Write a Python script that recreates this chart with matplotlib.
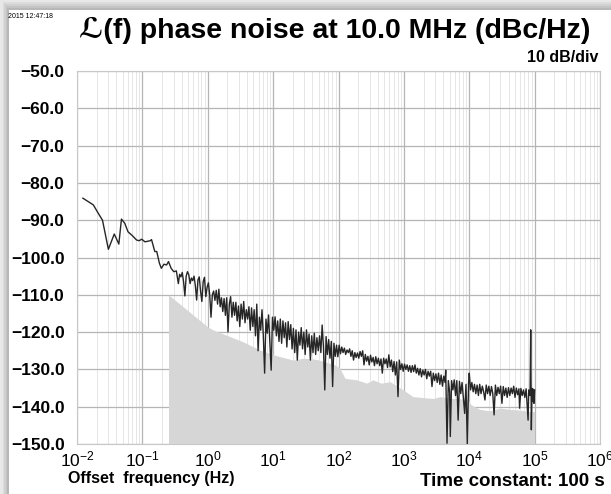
import matplotlib
matplotlib.use("Agg")
import matplotlib.pyplot as plt
import numpy as np
from matplotlib.ticker import FixedLocator, FuncFormatter, LogLocator, NullFormatter
from matplotlib.patches import Rectangle

plt.rcParams['font.family'] = ['Liberation Sans', 'DejaVu Sans']
plt.rcParams['mathtext.fontset'] = 'custom'
plt.rcParams['mathtext.rm'] = 'Liberation Sans'
plt.rcParams['mathtext.bf'] = 'Liberation Sans:bold'

# ---- data: measured trace as (log10 offset frequency, dBc/Hz) ----
trace_points = [
    (-1.91, -84.1), (-1.83, -85.0), (-1.75, -85.9), (-1.68, -88.0), (-1.61, -90.0),
    (-1.52, -97.8), (-1.47, -95.5), (-1.43, -93.7), (-1.36, -96.4), (-1.32, -89.7),
    (-1.27, -90.8), (-1.22, -93.1), (-1.15, -94.2), (-1.09, -95.3), (-1.05, -95.5),
    (-1.01, -95.1), (-0.96, -95.8), (-0.88, -95.5), (-0.86, -95.2), (-0.81, -98.4),
    (-0.78, -98.4), (-0.74, -101.5), (-0.71, -102.9), (-0.67, -101.8), (-0.63, -102.0),
    (-0.60, -101.1), (-0.56, -102.9), (-0.52, -103.8), (-0.48, -103.6),
    (-0.45, -107.0), (-0.43, -104.5), (-0.41, -105.2), (-0.39, -104.0), (-0.37, -106.5),
    (-0.35, -110.3), (-0.33, -105.0), (-0.31, -103.8), (-0.29, -104.6), (-0.27, -107.0),
    (-0.25, -105.5), (-0.23, -106.2), (-0.21, -105.0), (-0.19, -107.5), (-0.17, -111.4),
    (-0.15, -106.0), (-0.13, -105.2), (-0.11, -109.0), (-0.09, -111.8), (-0.07, -106.5),
    (-0.05, -105.3), (-0.03, -110.5), (-0.01, -108.0), (0.01, -106.8), (0.03, -110.0),
    (0.05, -116.0), (0.07, -110.0), (0.09, -109.0), (0.11, -111.5), (0.13, -108.8),
    (0.15, -112.5), (0.17, -108.5), (0.19, -113.2), (0.21, -110.8), (0.23, -114.5),
    (0.25, -111.0), (0.27, -115.5), (0.29, -110.8), (0.31, -119.9), (0.33, -112.5),
    (0.35, -110.5), (0.37, -116.0), (0.39, -112.0), (0.41, -115.5), (0.43, -112.0),
    (0.45, -117.0), (0.47, -113.0), (0.49, -118.5), (0.51, -112.5), (0.53, -116.5),
    (0.55, -111.8), (0.57, -117.5), (0.59, -114.0), (0.61, -116.5), (0.63, -113.2),
    (0.65, -119.5), (0.67, -113.5), (0.69, -118.5), (0.71, -114.0), (0.73, -121.0),
    (0.75, -112.5), (0.77, -125.0), (0.79, -116.0), (0.81, -119.5), (0.83, -114.0),
    (0.85, -121.0), (0.87, -131.0), (0.89, -116.5), (0.91, -120.3), (0.93, -115.4),
    (0.95, -122.5), (0.97, -130.2), (0.99, -116.0), (1.01, -119.5), (1.03, -115.9),
    (1.05, -121.0), (1.07, -117.0), (1.09, -122.5), (1.11, -116.5), (1.13, -123.0),
    (1.15, -117.0), (1.17, -121.5), (1.19, -117.5), (1.21, -124.0), (1.23, -117.2),
    (1.25, -122.0), (1.27, -118.0), (1.29, -124.5), (1.31, -119.0), (1.33, -125.5),
    (1.35, -119.4), (1.37, -127.5), (1.39, -120.0), (1.41, -123.5), (1.43, -118.8),
    (1.45, -124.5), (1.47, -120.0), (1.49, -126.0), (1.51, -119.4), (1.53, -124.0),
    (1.55, -120.5), (1.57, -127.5), (1.59, -121.0), (1.61, -125.5), (1.63, -120.3),
    (1.65, -126.0), (1.67, -121.5), (1.69, -125.0), (1.71, -121.0), (1.73, -125.5),
    (1.75, -118.1), (1.77, -124.0), (1.79, -135.5), (1.81, -121.2), (1.83, -126.0),
    (1.85, -122.0), (1.87, -127.0), (1.89, -122.5), (1.91, -134.6), (1.93, -123.0),
    (1.95, -126.5), (1.97, -123.5), (1.99, -126.6), (2.01, -123.5), (2.03, -125.8),
    (2.05, -124.0), (2.07, -125.5), (2.09, -124.3), (2.11, -126.0), (2.13, -124.8),
    (2.15, -125.5), (2.17, -124.5), (2.19, -126.5), (2.21, -125.0), (2.23, -127.5),
    (2.25, -125.5), (2.27, -126.8), (2.29, -125.6), (2.31, -127.0), (2.33, -125.2),
    (2.35, -126.5), (2.37, -125.0), (2.39, -128.8), (2.41, -126.0), (2.43, -127.8),
    (2.45, -126.5), (2.47, -128.8), (2.49, -126.2), (2.51, -128.0), (2.53, -126.8),
    (2.55, -129.0), (2.57, -126.6), (2.59, -128.5), (2.61, -127.0), (2.63, -129.0),
    (2.65, -127.2), (2.67, -131.0), (2.69, -127.0), (2.71, -128.5), (2.73, -127.2),
    (2.75, -129.5), (2.77, -126.1), (2.79, -129.3), (2.81, -127.5), (2.83, -130.6),
    (2.85, -127.9), (2.87, -131.5), (2.89, -128.0), (2.91, -137.3), (2.93, -127.5),
    (2.95, -130.0), (2.97, -128.5), (2.99, -130.5), (3.01, -128.6), (3.03, -130.0),
    (3.05, -128.8), (3.07, -130.5), (3.09, -129.0), (3.11, -130.8), (3.13, -129.0),
    (3.15, -130.6), (3.17, -128.8), (3.19, -131.0), (3.21, -129.7), (3.23, -131.5),
    (3.25, -129.8), (3.27, -132.0), (3.29, -130.2), (3.31, -131.5), (3.33, -130.0),
    (3.35, -132.5), (3.37, -130.5), (3.39, -131.8), (3.41, -130.5), (3.43, -134.6),
    (3.45, -131.0), (3.47, -133.0), (3.49, -131.2), (3.51, -133.5), (3.53, -131.0),
    (3.55, -134.0), (3.57, -131.5), (3.59, -134.5), (3.61, -131.8), (3.63, -133.5),
    (3.64, -130.2), (3.66, -149.8), (3.68, -133.0), (3.70, -136.0), (3.71, -148.0),
    (3.73, -133.0), (3.75, -135.5), (3.77, -132.8), (3.79, -137.0), (3.81, -133.0),
    (3.83, -143.6), (3.85, -133.2), (3.87, -136.5), (3.89, -133.5), (3.91, -137.5),
    (3.93, -141.8), (3.95, -134.0), (3.97, -150.0), (3.99, -133.5), (4.00, -131.0),
    (4.02, -135.5), (4.04, -133.5), (4.06, -136.0), (4.08, -134.0), (4.10, -136.5),
    (4.12, -134.2), (4.14, -137.0), (4.16, -134.0), (4.18, -136.5), (4.20, -134.5),
    (4.22, -136.0), (4.24, -138.2), (4.26, -134.2), (4.28, -136.5), (4.30, -134.5),
    (4.32, -137.0), (4.34, -134.6), (4.36, -136.5), (4.38, -142.2), (4.40, -134.2),
    (4.42, -137.0), (4.44, -134.8), (4.46, -136.5), (4.48, -134.5), (4.50, -139.1),
    (4.52, -134.6), (4.54, -137.0), (4.56, -135.0), (4.58, -137.5), (4.60, -134.9),
    (4.62, -137.0), (4.64, -135.0), (4.66, -136.5), (4.68, -134.5), (4.70, -137.5),
    (4.72, -135.0), (4.74, -136.8), (4.76, -135.2), (4.77, -140.4), (4.79, -135.1),
    (4.81, -137.0), (4.83, -135.5), (4.85, -137.5), (4.87, -135.2), (4.88, -138.0),
    (4.90, -143.6), (4.91, -135.5), (4.93, -137.0), (4.94, -119.4), (4.95, -146.2),
    (4.96, -135.1), (4.97, -138.5), (4.98, -135.3), (4.99, -139.1), (5.00, -135.5),
]

# ---- data: system noise floor (gray area) ----
floor_logf = [
    -0.60, 0.00, 0.08, 0.54, 0.80, 1.00, 1.31, 1.46, 1.66, 1.95,
    2.02, 2.10, 2.28, 2.43, 2.53, 2.65, 2.79, 2.99, 3.14, 3.45,
    3.55, 3.75, 3.97, 4.03, 4.16, 4.31, 4.47, 4.62, 4.77, 4.92, 5.00,
]
floor_db = [
    -110.0, -118.6, -119.4, -122.6, -124.8, -126.1, -127.5, -127.0, -127.3, -128.8,
    -129.7, -132.4, -132.8, -133.7, -132.8, -133.7, -133.3, -135.5, -137.3, -137.8,
    -137.3, -137.8, -138.0, -139.5, -140.7, -141.1, -140.4, -140.7, -140.9, -141.3, -141.3,
]

y_ticks = [-50, -60, -70, -80, -90, -100, -110, -120, -130, -140, -150]
x_decades = [-2, -1, 0, 1, 2, 3, 4, 5, 6]

title = "\u2112(f) phase noise at 10.0 MHz (dBc/Hz)"
timestamp = "2015 12:47:18"
scale_label = "10 dB/div"
xlabel = "Offset  frequency (Hz)"
tc_label = "Time constant: 100 s"

trace_f = [10 ** p[0] for p in trace_points]
trace_db = [p[1] for p in trace_points]
floor_f = [10 ** v for v in floor_logf]

W, H = 611, 494
fig = plt.figure(figsize=(W / 100, H / 100), dpi=100)
fig.patch.set_facecolor('white')

# gray frame on top and left edges
for i, c in enumerate(['#b8b8b8', '#c4c4c4', '#d0d0d0', '#dcdcdc', '#e8e8e8']):
    fig.add_artist(Rectangle((0, 1 - (10 - 2 * i) / H), 1, (10 - 2 * i) / H,
                             transform=fig.transFigure, color=c, lw=0, zorder=-5 + i * 0.01))
    fig.add_artist(Rectangle((0, 0), (9 - 1.6 * i) / W, 1,
                             transform=fig.transFigure, color=c, lw=0, zorder=-5 + i * 0.01))

ax = fig.add_axes([77 / W, 1 - 444 / H, 523 / W, 373 / H])
ax.set_xscale('log')
ax.set_xlim(10 ** x_decades[0], 10 ** x_decades[-1])
ax.set_ylim(y_ticks[-1], y_ticks[0])

ax.fill_between(floor_f, floor_db, y_ticks[-1], color='#d6d6d6', lw=0, zorder=1)
ax.plot(trace_f, trace_db, color='#262626', lw=1.0, zorder=3)

ax.xaxis.set_major_locator(FixedLocator([10 ** d for d in x_decades]))
ax.xaxis.set_minor_locator(LogLocator(base=10, subs=np.arange(2, 10), numticks=50))
ax.xaxis.set_minor_formatter(NullFormatter())
ax.xaxis.set_major_formatter(FuncFormatter(
    lambda v, p: r'$\mathregular{10^{%d}}$' % int(round(np.log10(v)))))
ax.yaxis.set_major_locator(FixedLocator(y_ticks))
ax.yaxis.set_major_formatter(FuncFormatter(
    lambda v, p: f"{v:.1f}".replace('-', '\u2212')))

ax.grid(which='major', color='#b5b5b5', lw=0.9, zorder=0)
ax.grid(which='minor', axis='x', color='#e2e2e2', lw=0.6, zorder=0)
ax.set_axisbelow(True)
ax.tick_params(which='both', length=0)
ax.tick_params(axis='y', pad=9, labelsize=12.5)
ax.tick_params(axis='x', pad=4, labelsize=12.5)
for lab in ax.get_yticklabels():
    lab.set_fontweight('bold')
for s in ax.spines.values():
    s.set_color('#c8c8c8')
    s.set_linewidth(0.8)

fig.text(335 / W, 1 - 30 / H, title, ha='center', va='center', fontsize=20.5,
         fontweight='bold')
fig.text(8 / W, 1 - 16 / H, timestamp, ha='left', va='center', fontsize=5)
fig.text(598 / W, 1 - 57 / H, scale_label, ha='right', va='center', fontsize=11.5,
         fontweight='bold')
fig.text(68 / W, 1 - 478 / H, xlabel, ha='left', va='center', fontsize=11.5,
         fontweight='bold')
fig.text(605 / W, 1 - 481 / H, tc_label, ha='right', va='center', fontsize=13.5,
         fontweight='bold')

fig.savefig('out.png', dpi=100)
